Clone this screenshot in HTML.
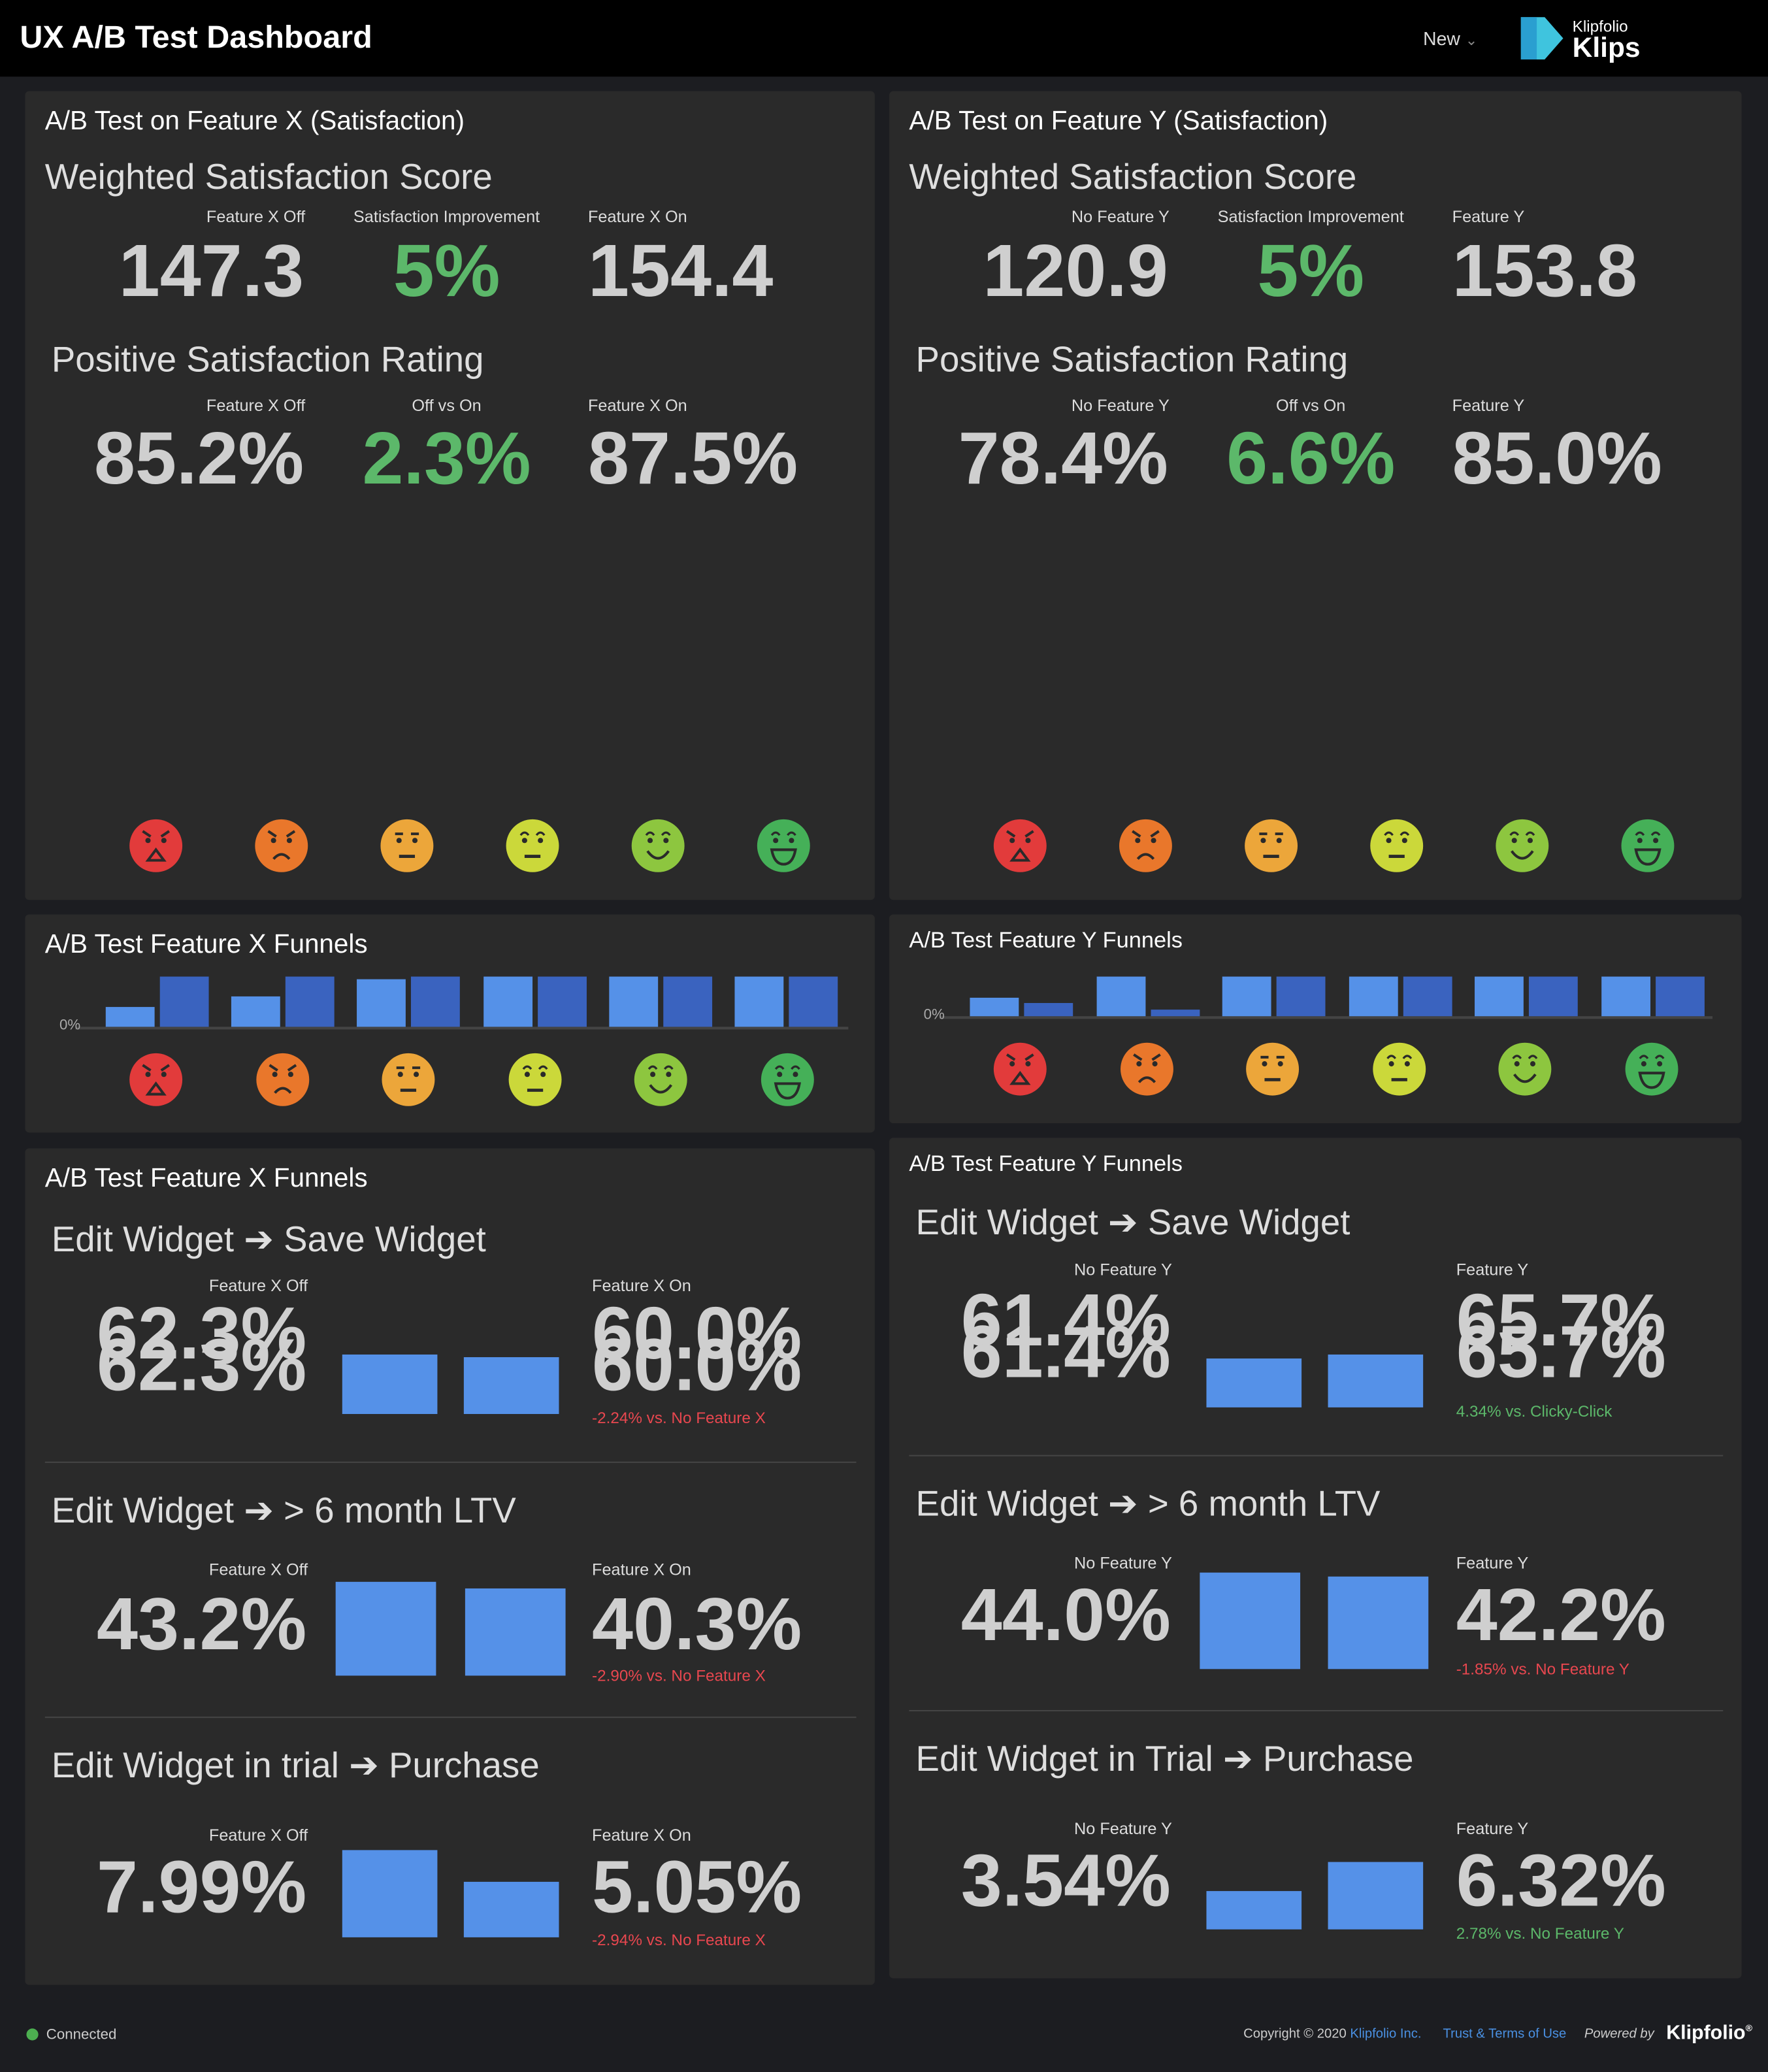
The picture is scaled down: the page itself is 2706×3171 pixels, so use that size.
<!DOCTYPE html>
<html><head><meta charset="utf-8">
<style>
html,body{margin:0;padding:0;background:#1c1d21;width:2706px;height:3170px;overflow:hidden;font-family:"Liberation Sans",sans-serif}
#root{position:absolute;left:0;top:0;width:1338px;height:1568px;transform:scale(2.02242);transform-origin:0 0;background:#1c1d21}
.a{position:absolute;white-space:nowrap;line-height:1}
.panel{position:absolute;background:#2a2a2a;border-radius:3px}
.div{position:absolute;height:1px;background:#454545}
</style></head><body>
<div id="root">
  <div class="a" style="left:0;top:0;width:1338px;height:58px;background:#000"></div>
  <div class="a" style="left:15px;top:17px;font-size:24px;font-weight:bold;color:#fff">UX A/B Test Dashboard</div>
  <div class="a" style="left:1077px;top:22px;font-size:14px;color:#ddd">New <span style="color:#888;font-size:11px">&#8964;</span></div>
  <svg class="a" style="left:1149px;top:11px" width="36" height="36"><polygon points="2,2 20,2 34,18 20,34 2,34" fill="#3fc4de"/><polygon points="2,2 14,2 14,34 2,34" fill="#2a9fd0"/></svg>
  <div class="a" style="left:1190px;top:14px;font-size:12px;color:#fff">Klipfolio</div>
  <div class="a" style="left:1190px;top:26px;font-size:21px;font-weight:bold;color:#fff">Klips</div>

  <div class="panel" style="left:19px;top:69px;width:643px;height:612px"></div>
  <div class="panel" style="left:673px;top:69px;width:645px;height:612px"></div>
  <div class="panel" style="left:19px;top:692px;width:643px;height:165px"></div>
  <div class="panel" style="left:673px;top:692px;width:645px;height:158px"></div>
  <div class="panel" style="left:19px;top:869px;width:643px;height:633px"></div>
  <div class="panel" style="left:673px;top:861px;width:645px;height:636px"></div>

  <div class="div" style="left:34px;top:1106px;width:614px"></div>
  <div class="div" style="left:34px;top:1299px;width:614px"></div>
  <div class="div" style="left:688px;top:1101px;width:616px"></div>
  <div class="div" style="left:688px;top:1294px;width:616px"></div>

  <div class="a" style="left:20px;top:1535px;font-size:11px;color:#ccc"><span style="display:inline-block;width:9px;height:9px;border-radius:50%;background:#4caf50;vertical-align:-1px;margin-right:6px"></span>Connected</div>
  <div class="a" style="left:941px;top:1535px;font-size:10px;color:#ccc">Copyright © 2020 <span style="color:#4a90e2">Klipfolio Inc.</span></div>
  <div class="a" style="left:1092px;top:1535px;font-size:10px;color:#4a90e2">Trust &amp; Terms of Use</div>
  <div class="a" style="left:1199px;top:1535px;font-size:10px;font-style:italic;color:#ccc">Powered by</div>
  <div class="a" style="left:1261px;top:1531px;font-size:15px;font-weight:bold;color:#fff">Klipfolio<sup style="font-size:7px">®</sup></div>
</div>
<script>
const R=document.getElementById('root');
function T(name,x,y,txt,size,color,opt){
  opt=opt||{};
  const d=document.createElement('div');
  d.className='a';
  
  
  d.textContent=txt;
  d.style.fontSize=size+'px';d.style.color=color;
  d.style.top=(y-size*0.52)+'px';
  if(opt.bold)d.style.fontWeight='bold';
  if(opt.sx)d.style.transform='scaleX('+opt.sx+')';
  if(opt.align==='right'){d.style.right=(1338-x)+'px';d.style.transformOrigin='right center';}
  else if(opt.align==='center'){d.style.left=(x-300)+'px';d.style.width='600px';d.style.textAlign='center';}
  else {d.style.left=x+'px';d.style.transformOrigin='left center';}
  R.appendChild(d);return d;
}
function box(name,x,y,w,h,c){
  const d=document.createElement('div');
  d.className='a';
  
  
  d.style.cssText+='left:'+x+'px;top:'+y+'px;width:'+w+'px;height:'+h+'px;background:'+c;
  R.appendChild(d);
}
const FACE_COLORS=['#e23b3b','#e9772b','#eca63a','#cbd83a','#8dc63f','#45b058'];
function face(i,cx,cy){
  const s=document.createElementNS('http://www.w3.org/2000/svg','svg');
  
  
  s.setAttribute('width','42');s.setAttribute('height','42');
  s.setAttribute('class','a');
  s.style.left=(cx-21)+'px';s.style.top=(cy-21)+'px';
  const k='#2a2a2a';
  let g='<ellipse cx="21" cy="21" rx="20" ry="20" fill="'+FACE_COLORS[i]+'"/>';
  g+='<circle cx="15" cy="17" r="2" fill="'+k+'"/><circle cx="27" cy="17" r="2" fill="'+k+'"/>';
  if(i<2){g+='<path d="M11 10 L17 14 M31 10 L25 14" stroke="'+k+'" stroke-width="2"/>';}
  if(i===2){g+='<path d="M12 12 H18 M24 12 H30" stroke="'+k+'" stroke-width="2"/>';}
  if(i>=3){g+='<path d="M12 13 Q15 9 18 13 M24 13 Q27 9 30 13" stroke="'+k+'" stroke-width="1.6" fill="none"/>';}
  if(i===0)g+='<path d="M15 32 L21 24 L27 32 Z" stroke="'+k+'" stroke-width="2" fill="none"/>';
  if(i===1)g+='<path d="M15 31 Q21 24 27 31" stroke="'+k+'" stroke-width="2" fill="none"/>';
  if(i===2||i===3)g+='<path d="M15 29 H27" stroke="'+k+'" stroke-width="2.4"/>';
  if(i===4)g+='<path d="M13 25 Q21 36 29 25" stroke="'+k+'" stroke-width="2" fill="none"/>';
  if(i===5)g+='<path d="M12 24 H30 Q28 35 21 35 Q14 35 12 24 Z" stroke="'+k+'" stroke-width="2" fill="none"/>';
  s.innerHTML=g;R.appendChild(s);
}
const GREEN='#5cb86a',RED='#e8474f',NUM='#cfcfcf',LBL='#dddddd',HEAD='#dedede';
const BIG=56;

// ===== Satisfaction panels =====
const xScore=['147.3','5%','154.4'], xPos=['85.2%','2.3%','87.5%'];
const yScore=['120.9','5%','153.8'], yPos=['78.4%','6.6%','85.0%'];
function satPanel(ox,title,lblA,lblB,score,pos){
  T('panel-title',ox+15,92,title,20,'#fff');
  T('weighted-score-heading',ox+15,135,'Weighted Satisfaction Score',27,HEAD);
  T('label-off',ox+212,164,lblA,12.5,LBL,{align:'right'});
  T('label-improvement',ox+319,164,'Satisfaction Improvement',12.5,LBL,{align:'center'});
  T('label-on',ox+426,164,lblB,12.5,LBL);
  T('score-off',ox+211,206,score[0],BIG,NUM,{bold:1,align:'right'});
  T('score-improvement',ox+319,206,score[1],BIG,GREEN,{bold:1,align:'center'});
  T('score-on',ox+426,206,score[2],BIG,NUM,{bold:1});
  T('positive-rating-heading',ox+20,273,'Positive Satisfaction Rating',27,HEAD);
  T('label-off',ox+212,307,lblA,12.5,LBL,{align:'right'});
  T('label-off-vs-on',ox+319,307,'Off vs On',12.5,LBL,{align:'center'});
  T('label-on',ox+426,307,lblB,12.5,LBL);
  T('rating-off',ox+211,348,pos[0],BIG,NUM,{bold:1,align:'right'});
  T('rating-diff',ox+319,348,pos[1],BIG,GREEN,{bold:1,align:'center'});
  T('rating-on',ox+426,348,pos[2],BIG,NUM,{bold:1});
  for(let i=0;i<6;i++)face(i,ox+99+95*i,640);
}
satPanel(19,'A/B Test on Feature X (Satisfaction)','Feature X Off','Feature X On',xScore,xPos);
satPanel(673,'A/B Test on Feature Y (Satisfaction)','No Feature Y','Feature Y',yScore,yPos);

// ===== Funnel bar charts =====
const ratingCategories=['Very Angry','Angry','Meh','Neutral','Happy','Very Happy'];
const xFunnelOff=[0.40,0.60,0.95,1,1,1];
const xFunnelOn=[1,1,1,1,1,1];
const yFunnelOff=[0.47,1,1,1,1,1];
const yFunnelOn=[0.33,0.17,1,1,1,1];
function barChart(ox,base,top,titleY,titleSize,offV,onV,faceY,gx0,step){
  T('chart-title',ox+15,titleY,titleSize===20?'A/B Test Feature X Funnels':'A/B Test Feature Y Funnels',titleSize,'#fff');
  const H=base-top;
  const yS=v=>v*H;
  box('x-axis-line',ox+38,base,585,2,'#444');
  T('y-axis-label-0',ox+26,base,'0%',11,'#aaa');
  ratingCategories.forEach((c,i)=>{
    const x=ox+gx0+step*i;
    const h1=yS(offV[i]),h2=yS(onV[i]);
    box('bar-off-'+(i+1),x,base-h1,37,h1,'#5591e8');
    box('bar-on-'+(i+1),x+41,base-h2,37,h2,'#3a63bf');
  });
  for(let i=0;i<6;i++)face(i,ox+99+95.5*i,faceY);
}
barChart(19,777,739,715,20,xFunnelOff,xFunnelOn,817,61,95.2);
barChart(673,769,739,712,17,yFunnelOff,yFunnelOn,809,61,95.6);

// ===== Funnel comparison sections =====
const xFunnelNames=['Edit Widget ➔ Save Widget','Edit Widget ➔ > 6 month LTV','Edit Widget in trial ➔ Purchase'];
const xOffVals=[62.3,43.2,7.99];
const xOnVals=[60.0,40.3,5.05];
const xOffLbl=['62.3%','43.2%','7.99%'];
const xOnLbl=['60.0%','40.3%','5.05%'];
const xDelta=['-2.24% vs. No Feature X','-2.90% vs. No Feature X','-2.94% vs. No Feature X'];
const yFunnelNames=['Edit Widget ➔ Save Widget','Edit Widget ➔ > 6 month LTV','Edit Widget in Trial ➔ Purchase'];
const yOffVals=[61.4,44.0,3.54];
const yOnVals=[65.7,42.2,6.32];
const yOffLbl=['61.4%','44.0%','3.54%'];
const yOnLbl=['65.7%','42.2%','6.32%'];
const yDelta=['4.34% vs. Clicky-Click','-1.85% vs. No Feature Y','2.78% vs. No Feature Y'];
function funnelPanel(ox,title,titleY,lblA,lblB,names,offV,onV,offL,onL,delta,L){
  T('panel-title',ox+15,titleY,title,titleY===892?20:17,'#fff');
  names.forEach((n,i)=>{
    const s=L[i];
    T('funnel-heading-'+(i+1),ox+20,s.h,n,27,HEAD);
    T('label-off',ox+214,s.l,lblA,12.5,LBL,{align:'right'});
    T('label-on',ox+429,s.l,lblB,12.5,LBL);
    if(i===0){
      T('value-off-ghost',ox+213,s.n-24,offL[i],BIG,NUM,{bold:1,align:'right'});
      T('value-on-ghost',ox+429,s.n-24,onL[i],BIG,NUM,{bold:1});
    }
    T('value-off',ox+213,s.n,offL[i],BIG,NUM,{bold:1,align:'right'});
    T('value-on',ox+429,s.n,onL[i],BIG,NUM,{bold:1});
    const mx=Math.max(offV[i],onV[i]);
    const yS=v=>v/mx*s.max;
    const h1=yS(offV[i]),h2=yS(onV[i]);
    box('bar-off',ox+s.bx,s.b-h1,s.bw,h1,'#5591e8');
    box('bar-on',ox+s.bx2,s.b-h2,s.bw,h2,'#5591e8');
    const neg=delta[i].charAt(0)==='-';
    T('delta-text',ox+429,s.d,delta[i],12,neg?RED:GREEN);
  });
}
funnelPanel(19,'A/B Test Feature X Funnels',892,'Feature X Off','Feature X On',xFunnelNames,xOffVals,xOnVals,xOffLbl,xOnLbl,xDelta,[
  {h:939,l:973,n:1034,b:1070,max:45,bx:240,bx2:332,bw:72,d:1073},
  {h:1144,l:1188,n:1230,b:1268,max:71,bx:235,bx2:333,bw:76,d:1268},
  {h:1337,l:1389,n:1429,b:1466,max:66,bx:240,bx2:332,bw:72,d:1468}]);
funnelPanel(673,'A/B Test Feature Y Funnels',881,'No Feature Y','Feature Y',yFunnelNames,yOffVals,yOnVals,yOffLbl,yOnLbl,yDelta,[
  {h:926,l:961,n:1024,b:1065,max:40,bx:240,bx2:332,bw:72,d:1068},
  {h:1139,l:1183,n:1223,b:1263,max:73,bx:235,bx2:332,bw:76,d:1263},
  {h:1332,l:1384,n:1424,b:1460,max:51,bx:240,bx2:332,bw:72,d:1463}]);
</script>
</body></html>
